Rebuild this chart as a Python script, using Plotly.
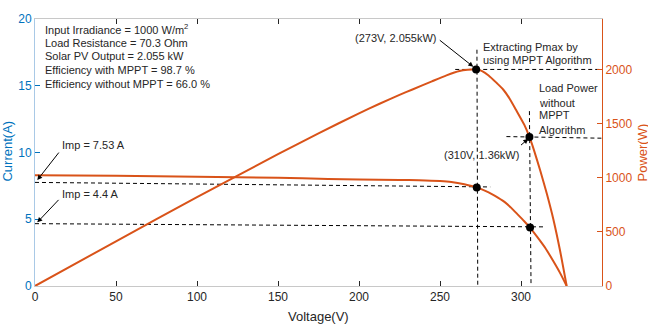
import plotly.graph_objects as go

# ---------------- data ----------------
iv_voltage = [0, 50, 100, 150, 181, 200, 225, 237, 250, 257, 265, 273, 278, 282, 286, 290,
              294, 298, 302, 305.6, 310, 315, 320, 324, 328.2]
iv_current = [8.30, 8.25, 8.18, 8.10, 8.02, 7.98, 7.94, 7.92, 7.86, 7.79, 7.62, 7.37, 7.12,
              6.88, 6.60, 6.28, 5.85, 5.35, 4.85, 4.38, 3.68, 2.85, 1.85, 1.00, 0.0]

pv_voltage = [0, 50, 100, 150, 175, 200, 212.7, 225, 233, 245, 254, 262, 267, 272.3, 276, 280,
              285, 289, 293, 297, 302, 305.2, 308, 312, 316, 320, 324, 328.2]
pv_power = [0, 413, 820, 1218, 1410, 1595, 1683, 1765, 1815, 1890, 1945, 1985, 1997, 2002,
            1985, 1945, 1875, 1815, 1730, 1625, 1490, 1377, 1255, 1060, 850, 615, 335, 0]

op_current_v = [272.7, 305.6]     # operating points on I-V curve
op_current_i = [7.37, 4.38]
op_power_v = [272.3, 305.2]       # operating points on P-V curve
op_power_p = [2000, 1377]

x_ticks = [0, 50, 100, 150, 200, 250, 300]
y_ticks = [0, 5, 10, 15, 20]
y2_ticks = [0, 500, 1000, 1500, 2000]

ORANGE = "#D95319"
BLUE = "#0072BD"
TXT = "#262626"
FONT = "Liberation Sans, Arial, sans-serif"

fig = go.Figure()

dash_style = dict(color="black", width=1, dash="4px,3px")

# dashed guide lines (current axis)
fig.add_trace(go.Scatter(x=[0, 281], y=[7.76, 7.42], mode="lines", line=dash_style,
                         hoverinfo="skip", showlegend=False))
fig.add_trace(go.Scatter(x=[0, 313.8], y=[4.67, 4.43], mode="lines", line=dash_style,
                         hoverinfo="skip", showlegend=False))
fig.add_trace(go.Scatter(x=[272.8, 273.3], y=[17.7, 0], mode="lines", line=dash_style,
                         hoverinfo="skip", showlegend=False))
fig.add_trace(go.Scatter(x=[305.2, 306.2], y=[13.1, 0], mode="lines", line=dash_style,
                         hoverinfo="skip", showlegend=False))
# dashed guide lines (power axis)
fig.add_trace(go.Scatter(x=[259.4, 350], y=[2000, 2000], mode="lines", line=dash_style,
                         yaxis="y2", hoverinfo="skip", showlegend=False))
fig.add_trace(go.Scatter(x=[291, 350], y=[1380, 1365], mode="lines", line=dash_style,
                         yaxis="y2", hoverinfo="skip", showlegend=False))

# curves
fig.add_trace(go.Scatter(x=iv_voltage, y=iv_current, mode="lines", line_shape="spline",
                         line=dict(color=ORANGE, width=2, smoothing=0.6), showlegend=False))
fig.add_trace(go.Scatter(x=pv_voltage, y=pv_power, mode="lines", line_shape="spline",
                         line=dict(color=ORANGE, width=2, smoothing=0.6), yaxis="y2",
                         showlegend=False))

# markers
fig.add_trace(go.Scatter(x=op_current_v, y=op_current_i, mode="markers",
                         marker=dict(color="black", size=8), showlegend=False))
fig.add_trace(go.Scatter(x=op_power_v, y=op_power_p, mode="markers", yaxis="y2",
                         marker=dict(color="black", size=8), showlegend=False))

L, R, T, B = 35, 46, 12, 40
W, H = 648, 326
PW, PH = W - L - R, H - T - B


def px2paper(px, py):
    return (px - L) / PW, (T + PH - py) / PH


annotations = []


def text(t, px, py, anchor="left", size=11, color=TXT, angle=0):
    x, y = px2paper(px, py)
    annotations.append(dict(text=t, x=x, y=y, xref="paper", yref="paper", showarrow=False,
                            xanchor=anchor, yanchor="middle", textangle=angle,
                            font=dict(family=FONT, size=size, color=color)))


def arrow(tip_px, tip_py, tail_px, tail_py):
    x, y = px2paper(tip_px, tip_py)
    annotations.append(dict(text="", x=x, y=y, xref="paper", yref="paper", showarrow=True,
                            ax=tail_px - tip_px, ay=tail_py - tip_py, arrowhead=2,
                            arrowsize=1, arrowwidth=1, arrowcolor="black", standoff=0))


text("Input Irradiance = 1000 W/m<sup>2</sup>", 43, 22.5)
text("Load Resistance = 70.3 Ohm", 43, 36.5)
text("Solar PV Output = 2.055 kW", 43, 50)
text("Efficiency with MPPT = 98.7 %", 43, 64)
text("Efficiency without MPPT = 66.0 %", 43, 78.5)

text("(273V, 2.055kW)", 396, 32, anchor="center")
text("Extracting Pmax by", 481, 40.7)
text("using MPPT Algorithm", 481, 54)
text("Load Power", 537, 82.7)
text("without", 537, 97.7)
text("MPPT", 537, 111)
text("Algorithm", 537, 125.7)
text("(310V, 1.36kW)", 481, 152, anchor="center")
text("Imp = 7.53 A", 60, 141.7)
text("Imp = 4.4 A", 60, 191.7)

arrow(473.3, 61, 438.3, 33.3)
arrow(528.3, 135, 519.5, 142.5)
arrow(37.3, 177.3, 60, 148.3)
arrow(37.3, 220.7, 60, 196.7)

# axis titles
text("Voltage(V)", 318, 317, anchor="center", size=13, color=TXT)
text("Current(A)", 8, 148, anchor="center", size=13, color=BLUE, angle=-90)
text("Power(W)", 642, 149, anchor="center", size=13, color=ORANGE, angle=-90)

fig.update_layout(
    width=W, height=H,
    margin=dict(l=L, r=R, t=T, b=B),
    paper_bgcolor="white", plot_bgcolor="white",
    font=dict(family=FONT, size=12, color=TXT),
    annotations=annotations,
    xaxis=dict(range=[0, 350], tickvals=x_ticks, ticks="inside", ticklen=5, tickcolor=TXT,
               showline=True, linecolor="#c8c8c8", linewidth=1, mirror="ticks",
               showgrid=False, zeroline=False, tickfont=dict(size=12, color=TXT)),
    yaxis=dict(range=[0, 20], tickvals=y_ticks, ticks="inside", ticklen=5, tickcolor=BLUE,
               showline=True, linecolor="#a9c9e6", linewidth=1, showgrid=False,
               zeroline=False, tickfont=dict(size=12, color=BLUE)),
    yaxis2=dict(range=[0, 2466], tickvals=y2_ticks, ticks="inside", ticklen=5,
                tickcolor=ORANGE, showline=True, linecolor=ORANGE, linewidth=1,
                overlaying="y", side="right", showgrid=False, zeroline=False,
                tickfont=dict(size=12, color=ORANGE)),
)

fig.write_html("out.html",
               config={"displayModeBar": False},
               post_script="document.body.style.margin='0px';"
                           "document.body.style.overflow='hidden';")
